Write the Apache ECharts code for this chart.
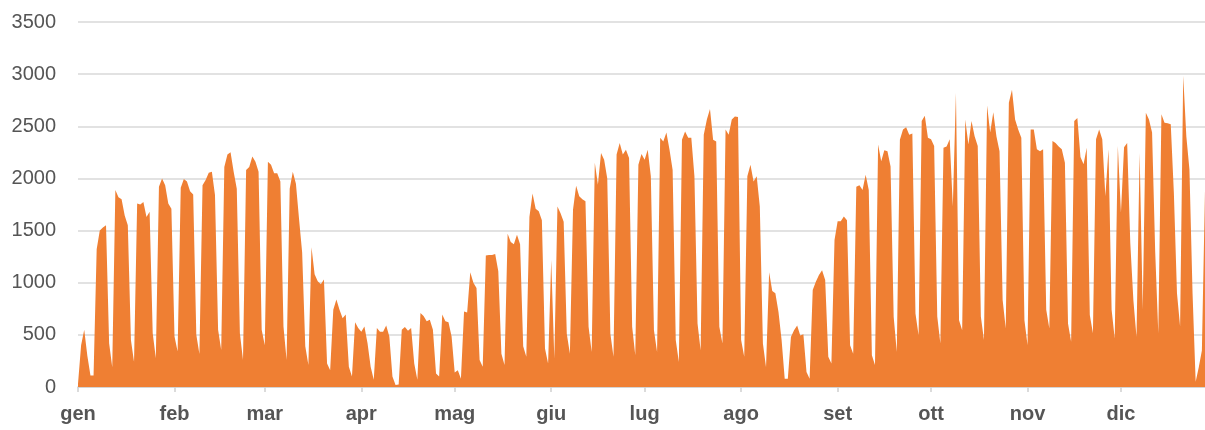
<!DOCTYPE html>
<html>
<head>
<meta charset="utf-8">
<script src="https://cdn.jsdelivr.net/npm/echarts@6/dist/echarts.min.js"></script>
<style>
  html, body { margin: 0; padding: 0; background: #fff; }
  #chart { width: 1205px; height: 430px; }
</style>
</head>
<body>
<div id="chart"></div>
<script>
  // daily values, 2020-01-01 .. 2020-12-28
  const gen = [30, 400, 550, 300, 110, 110, 1320, 1500, 1530, 1550, 420, 190, 1890, 1820, 1800, 1645, 1550, 450, 240, 1760, 1750, 1775, 1630, 1680, 516, 275, 1920, 2000, 1935, 1760, 1710]
  const feb = [484, 340, 1910, 1995, 1970, 1877, 1845, 500, 316, 1935, 1985, 2055, 2065, 1840, 550, 355, 2110, 2230, 2250, 2065, 1900, 516, 260, 2080, 2110, 2210, 2160, 2065, 550]
  const mar = [400, 2160, 2130, 2050, 2050, 1970, 580, 260, 1900, 2065, 1950, 1610, 1290, 390, 210, 1340, 1080, 1015, 985, 1030, 225, 160, 740, 840, 740, 660, 695, 195, 100, 620, 565]
  const apr = [530, 580, 420, 195, 70, 565, 530, 530, 590, 484, 100, 20, 25, 550, 575, 540, 565, 225, 70, 710, 680, 630, 645, 550, 130, 100, 695, 630, 620, 484]
  const mag = [140, 160, 80, 725, 715, 1100, 1000, 950, 260, 195, 1260, 1265, 1265, 1275, 1110, 320, 210, 1470, 1390, 1370, 1460, 1370, 390, 290, 1630, 1855, 1710, 1685, 1600, 370, 225]
  const giu = [1218, 270, 1730, 1665, 1585, 510, 320, 1700, 1930, 1830, 1800, 1780, 577, 336, 2150, 1940, 2245, 2180, 2000, 510, 290, 2230, 2340, 2230, 2275, 2195, 577, 305, 2130, 2235]
  const lug = [2180, 2275, 2020, 545, 336, 2390, 2355, 2440, 2275, 2080, 450, 240, 2370, 2450, 2390, 2390, 2020, 610, 350, 2420, 2565, 2665, 2370, 2355, 577, 417, 2470, 2420, 2565, 2595, 2590]
  const ago = [450, 290, 2020, 2130, 1970, 2020, 1730, 417, 190, 1100, 920, 900, 720, 450, 80, 80, 480, 545, 590, 495, 505, 145, 80, 930, 1010, 1075, 1120, 1025, 290, 225, 1410]
  const set = [1590, 1590, 1635, 1600, 400, 320, 1920, 1935, 1890, 2035, 1890, 305, 210, 2325, 2165, 2270, 2260, 2115, 673, 336, 2370, 2470, 2490, 2420, 2430, 705, 497, 2550, 2600, 2390]
  const ott = [2375, 2310, 675, 417, 2295, 2305, 2375, 1730, 2820, 640, 545, 2565, 2325, 2550, 2405, 2310, 675, 450, 2700, 2440, 2635, 2405, 2260, 835, 560, 2725, 2850, 2565, 2470, 2390, 640]
  const nov = [400, 2470, 2470, 2280, 2260, 2280, 740, 560, 2360, 2340, 2305, 2280, 2150, 610, 433, 2550, 2580, 2205, 2135, 2295, 690, 515, 2375, 2470, 2375, 1830, 2280, 740, 465, 2310]
  const dic = [1670, 2300, 2340, 1380, 830, 480, 2245, 740, 2630, 2565, 2440, 1300, 513, 2615, 2535, 2530, 2520, 1860, 900, 580, 2985, 2405, 2085, 900, 50, 190, 350, 1890]

  const monthNames = ['gen', 'feb', 'mar', 'apr', 'mag', 'giu', 'lug', 'ago', 'set', 'ott', 'nov', 'dic']
  const months = [gen, feb, mar, apr, mag, giu, lug, ago, set, ott, nov, dic]

  const days = []
  const values = []
  months.forEach((m, mi) => {
    m.forEach((v, di) => {
      days.push({ month: mi, day: di + 1 })
      values.push(v)
    })
  })
  const categories = days.map(d => d.day === 1 ? monthNames[d.month] : (d.month + 1) + '-' + d.day)
  const isMonthStart = (idx) => days[idx].day === 1

  const chart = echarts.init(document.getElementById('chart'))
  chart.setOption({
    animation: false,
    grid: {
      left: 78,
      right: 0,
      top: 22,
      bottom: 43
    },
    xAxis: {
      type: 'category',
      data: categories,
      boundaryGap: false,
      axisLine: { lineStyle: { color: '#d0d0d0', width: 1.5 } },
      axisTick: {
        interval: isMonthStart,
        length: 5,
        lineStyle: { color: '#d0d0d0', width: 1.5 }
      },
      axisLabel: {
        interval: isMonthStart,
        showMinLabel: true,
        color: '#555555',
        fontFamily: 'Liberation Sans, Arial, sans-serif',
        fontWeight: 'bold',
        fontSize: 20,
        margin: 17
      },
      splitLine: { show: false }
    },
    yAxis: {
      type: 'value',
      min: 0,
      max: 3500,
      interval: 500,
      axisLine: { show: false },
      axisTick: { show: false },
      axisLabel: {
        color: '#555555',
        fontFamily: 'Liberation Sans, Arial, sans-serif',
        fontSize: 20,
        margin: 22,
        formatter: (v) => String(v)
      },
      splitLine: { lineStyle: { color: '#d9d9d9', width: 1.5 } }
    },
    series: [{
      type: 'line',
      data: values,
      showSymbol: false,
      lineStyle: { width: 0 },
      areaStyle: { color: '#ef7f33', opacity: 1 },
      itemStyle: { color: '#ef7f33' }
    }]
  })
</script>
</body>
</html>
